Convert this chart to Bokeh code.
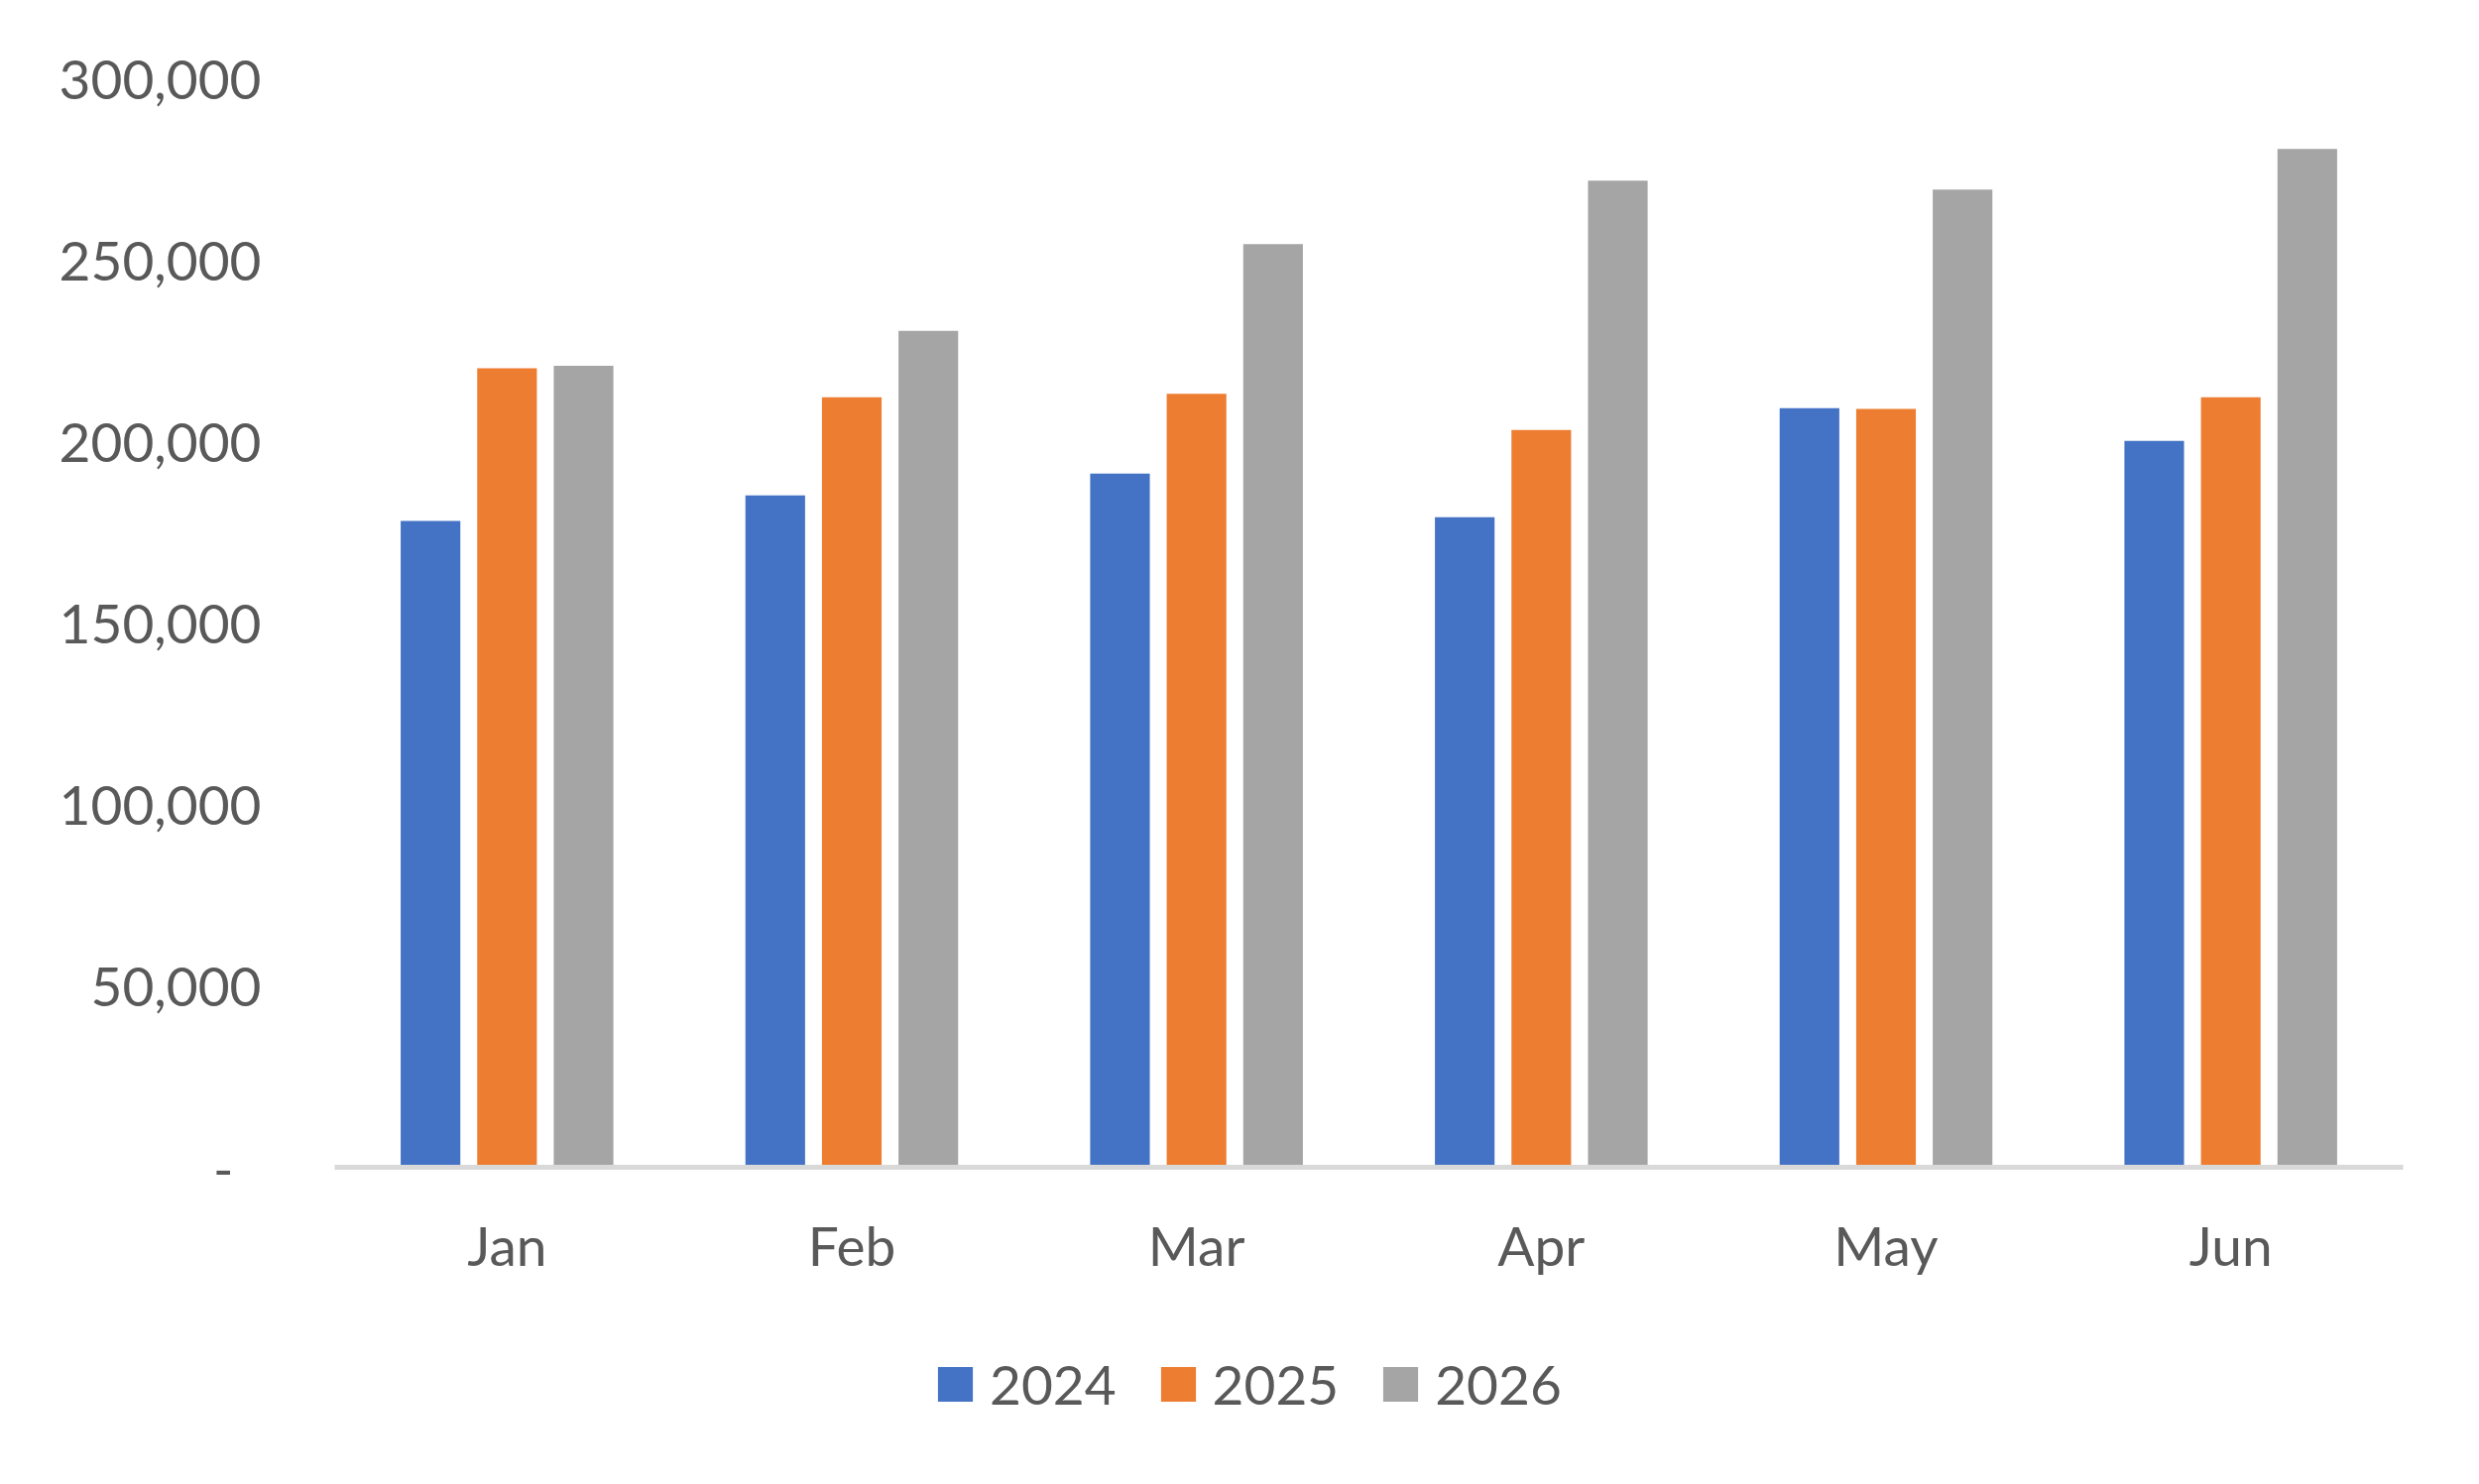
from bokeh.plotting import figure
from bokeh.layouts import column
from bokeh.models import FactorRange, Range1d, ColumnDataSource, FixedTicker, NumeralTickFormatter, Legend, LegendItem
from bokeh.transform import dodge
from bokeh.embed import file_html
from bokeh.resources import INLINE

months = ["Jan", "Feb", "Mar", "Apr", "May", "Jun"]
years = ["2024", "2025", "2026"]
v2024 = [178000, 185000, 191000, 179000, 209000, 200000]
v2025 = [220000, 212000, 213000, 203000, 208800, 212000]
v2026 = [220700, 230300, 254200, 271700, 269200, 280400]
y_ticks = [0, 50000, 100000, 150000, 200000, 250000, 300000]

colors = ["#4472C4", "#ED7D31", "#A5A5A5"]
FONT = "Lato"
TXT = "#595959"

src = ColumnDataSource(dict(month=months, y2024=v2024, y2025=v2025, y2026=v2026))
cols = ["y2024", "y2025", "y2026"]
offsets = [-0.222, 0.0, 0.222]

xr = FactorRange(*months, range_padding=0)
p = figure(width=2484, height=1327, x_range=xr,
           y_range=Range1d(0, 300000), output_backend="svg", toolbar_location=None,
           min_border_left=337, min_border_right=61, min_border_top=78, min_border_bottom=150)

for col, off, c in zip(cols, offsets, colors):
    p.vbar(x=dodge("month", off, range=xr), top=col, width=0.173, source=src,
           fill_color=c, line_color=None)

p.xgrid.visible = False
p.ygrid.visible = False
p.outline_line_color = None
p.background_fill_color = "white"
p.border_fill_color = "white"

xa = p.xaxis[0]
xa.axis_line_color = "#D9D9D9"
xa.axis_line_width = 5
xa.major_tick_line_color = None
xa.minor_tick_line_color = None
xa.major_tick_in = 0
xa.major_tick_out = 0
xa.major_label_standoff = 45
xa.major_label_text_font = FONT
xa.major_label_text_font_size = "55px"
xa.major_label_text_color = TXT

ya = p.yaxis[0]
ya.axis_line_color = None
ya.major_tick_line_color = None
ya.minor_tick_line_color = None
ya.major_tick_in = 0
ya.major_tick_out = 0
ya.ticker = FixedTicker(ticks=y_ticks)
ya.formatter = NumeralTickFormatter(format="0,0")
ya.major_label_overrides = {0: "-\u00a0\u00a0"}
ya.major_label_standoff = 74
ya.major_label_text_font = FONT
ya.major_label_text_font_size = "55px"
ya.major_label_text_color = TXT

# legend strip below the chart: same series, viewed out of range so only the legend shows
L = figure(width=2484, height=154, x_range=xr, y_range=Range1d(400000, 500000),
           output_backend="svg", toolbar_location=None,
           min_border_left=337, min_border_right=61, min_border_top=0, min_border_bottom=0)
L.axis.visible = False
L.grid.visible = False
L.outline_line_color = None
L.background_fill_color = "white"
L.border_fill_color = "white"
items = []
for y, col, off, c in zip(years, cols, offsets, colors):
    r = L.vbar(x=dodge("month", off, range=xr), top=col, width=0.173, source=src,
               fill_color=c, line_color=None)
    items.append(LegendItem(label=y, renderers=[r]))
legend = Legend(items=items, orientation="horizontal", location=(604, 52),
                glyph_width=44, glyph_height=44, label_standoff=13, spacing=40,
                padding=0, margin=0, border_line_color=None, background_fill_alpha=0,
                label_text_font=FONT, label_text_font_size="55px", label_text_color=TXT)
L.add_layout(legend, "center")

layout = column(p, L, spacing=0)
open("out.html", "w").write(file_html(layout, INLINE))
